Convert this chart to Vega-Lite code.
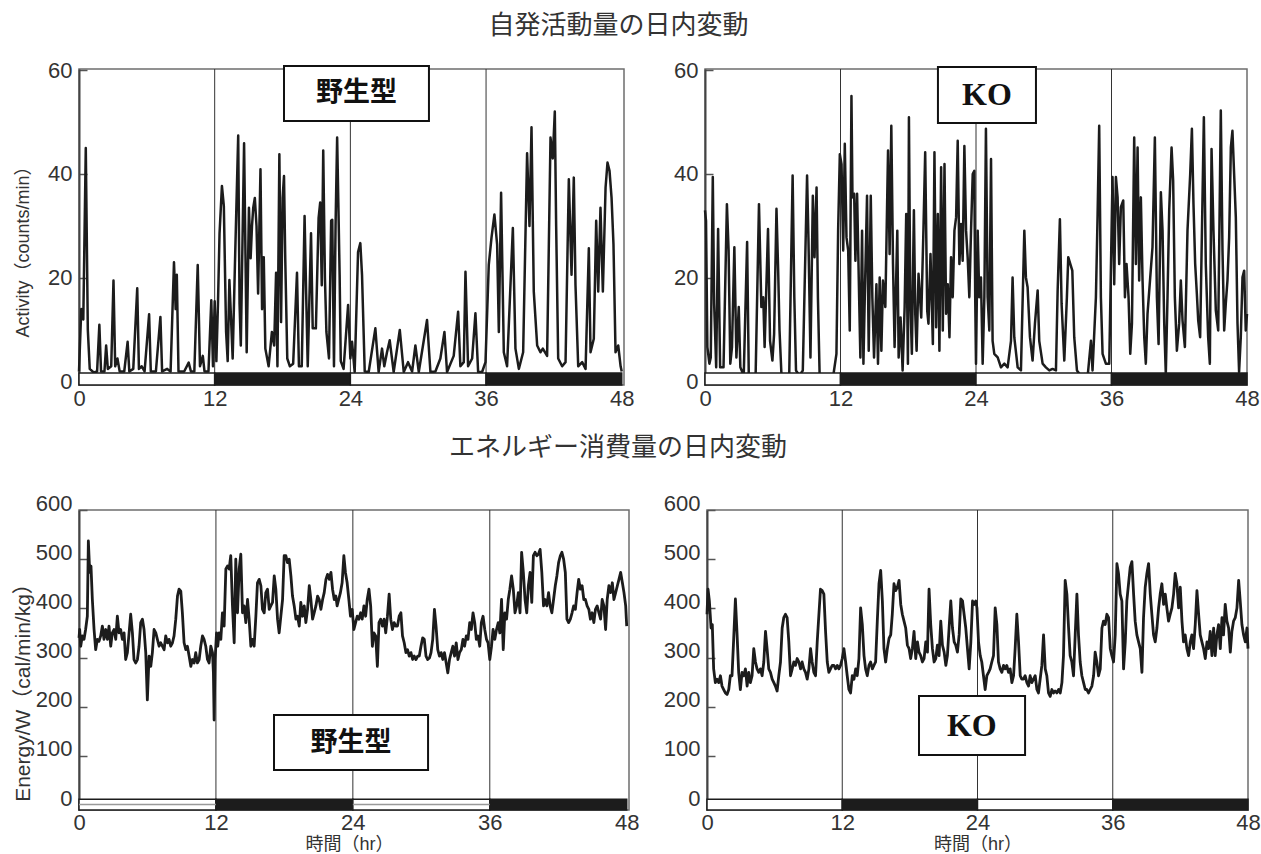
{
"$schema": "https://vega.github.io/schema/vega-lite/v6.json",
"background": "white",
"padding": {"left": 11, "top": 13, "right": 0, "bottom": 0},
"config": {
  "font": "Liberation Sans",
  "view": {"stroke": "#6e6e6e", "strokeWidth": 1.5},
  "axis": {"labelFont": "Liberation Sans", "labelFontSize": 22, "labelColor": "#333", "grid": false, "labelFlush": false, "labelOverlap": false, "titleFontWeight": "normal", "titleColor": "#333"},
  "axisX": {"ticks": false, "domain": false, "labelPadding": 3},
  "axisY": {"tickSize": -8, "tickColor": "#555", "tickWidth": 1.5, "domainColor": "#444", "domainWidth": 2, "labelPadding": 15}
},
"datasets": {
  "ld": [{"s":0,"e":12,"p":"L"},{"s":12,"e":24,"p":"D"},{"s":24,"e":36,"p":"L"},{"s":36,"e":48,"p":"D"}],
  "wtAct": [{"t":0,"v":2},{"t":0.2,"v":14},{"t":0.38,"v":12},{"t":0.6,"v":45},{"t":0.78,"v":10},{"t":0.95,"v":2.5},{"t":1.3,"v":1.8},{"t":1.6,"v":2},{"t":1.8,"v":11},{"t":1.95,"v":2},{"t":2.25,"v":2},{"t":2.4,"v":7},{"t":2.55,"v":2.5},{"t":2.85,"v":3},{"t":3.05,"v":19.5},{"t":3.2,"v":3},{"t":3.4,"v":4.5},{"t":3.6,"v":2},{"t":4.0,"v":2},{"t":4.3,"v":7.7},{"t":4.45,"v":2},{"t":4.8,"v":2.5},{"t":5.15,"v":18},{"t":5.3,"v":2.5},{"t":5.55,"v":3},{"t":5.8,"v":2},{"t":6.2,"v":13},{"t":6.35,"v":2},{"t":6.8,"v":2},{"t":7.2,"v":12.5},{"t":7.35,"v":2},{"t":7.8,"v":2.5},{"t":8.1,"v":2},{"t":8.4,"v":23},{"t":8.55,"v":14},{"t":8.65,"v":20.6},{"t":8.8,"v":2},{"t":9.3,"v":2},{"t":9.7,"v":3.7},{"t":9.9,"v":2},{"t":10.2,"v":2},{"t":10.5,"v":22.5},{"t":10.7,"v":3},{"t":10.95,"v":5},{"t":11.1,"v":2},{"t":11.45,"v":2},{"t":11.7,"v":15.7},{"t":11.85,"v":3},{"t":12.0,"v":15.5},{"t":12.15,"v":4},{"t":12.29,"v":15},{"t":12.43,"v":28.6},{"t":12.64,"v":37.7},{"t":12.81,"v":33.8},{"t":13.01,"v":9.6},{"t":13.15,"v":4},{"t":13.3,"v":19.6},{"t":13.45,"v":12},{"t":13.59,"v":4.5},{"t":13.79,"v":22.5},{"t":14.08,"v":47.4},{"t":14.2,"v":15},{"t":14.31,"v":7},{"t":14.6,"v":45.9},{"t":14.83,"v":5.7},{"t":15.03,"v":33.5},{"t":15.18,"v":23.8},{"t":15.3,"v":30},{"t":15.41,"v":33.5},{"t":15.55,"v":35.4},{"t":15.7,"v":30},{"t":15.84,"v":17},{"t":16.05,"v":40.9},{"t":16.19,"v":14},{"t":16.34,"v":24},{"t":16.48,"v":6.4},{"t":16.77,"v":3},{"t":17.06,"v":9.6},{"t":17.26,"v":7},{"t":17.43,"v":21},{"t":17.55,"v":3},{"t":17.72,"v":43.8},{"t":17.87,"v":11.5},{"t":18.01,"v":35.4},{"t":18.13,"v":39.6},{"t":18.24,"v":23.8},{"t":18.42,"v":4.5},{"t":18.65,"v":3},{"t":18.94,"v":3.5},{"t":19.28,"v":21},{"t":19.45,"v":3},{"t":19.7,"v":3},{"t":19.95,"v":31.9},{"t":20.09,"v":17},{"t":20.23,"v":3},{"t":20.52,"v":28.6},{"t":20.67,"v":10.3},{"t":20.95,"v":10.3},{"t":21.19,"v":31.5},{"t":21.33,"v":34.5},{"t":21.47,"v":18.6},{"t":21.6,"v":44.5},{"t":21.75,"v":20},{"t":21.88,"v":9.6},{"t":22.11,"v":4.5},{"t":22.3,"v":31},{"t":22.4,"v":31.2},{"t":22.55,"v":3},{"t":22.69,"v":30},{"t":22.83,"v":47},{"t":22.95,"v":32.8},{"t":23.05,"v":20.6},{"t":23.15,"v":4},{"t":23.4,"v":2.5},{"t":23.8,"v":14.8},{"t":24.0,"v":4.5},{"t":24.15,"v":7.7},{"t":24.38,"v":1.9},{"t":24.68,"v":25},{"t":24.88,"v":26.7},{"t":25.03,"v":20.6},{"t":25.27,"v":2},{"t":25.62,"v":1.9},{"t":26.21,"v":10.3},{"t":26.5,"v":1.9},{"t":26.8,"v":6.4},{"t":27.0,"v":3},{"t":27.24,"v":5.7},{"t":27.48,"v":8},{"t":27.83,"v":1.9},{"t":28.37,"v":10},{"t":28.72,"v":1.9},{"t":29.1,"v":3.8},{"t":29.46,"v":2},{"t":29.75,"v":7},{"t":30.05,"v":1.9},{"t":30.78,"v":11.9},{"t":31.08,"v":1.9},{"t":31.52,"v":2},{"t":31.96,"v":4.5},{"t":32.32,"v":9.6},{"t":32.55,"v":1.9},{"t":33.14,"v":5},{"t":33.53,"v":13.5},{"t":33.73,"v":3},{"t":34.03,"v":3.8},{"t":34.18,"v":21.2},{"t":34.41,"v":3},{"t":34.77,"v":4.5},{"t":35.06,"v":13.2},{"t":35.3,"v":1.9},{"t":35.65,"v":1.9},{"t":35.95,"v":3.8},{"t":36.24,"v":22.5},{"t":36.48,"v":27.7},{"t":36.74,"v":32.2},{"t":36.98,"v":26.4},{"t":37.13,"v":9.6},{"t":37.33,"v":36.4},{"t":37.57,"v":5.7},{"t":37.86,"v":3},{"t":38.37,"v":29.6},{"t":38.6,"v":6.4},{"t":38.9,"v":2.5},{"t":39.28,"v":5.7},{"t":39.63,"v":44},{"t":39.84,"v":30},{"t":40.02,"v":49},{"t":40.22,"v":17.4},{"t":40.52,"v":7},{"t":40.81,"v":5.7},{"t":41.02,"v":6.4},{"t":41.4,"v":5},{"t":41.7,"v":47},{"t":41.9,"v":43},{"t":42.08,"v":52},{"t":42.2,"v":30},{"t":42.38,"v":4.5},{"t":42.73,"v":3},{"t":43.03,"v":3.8},{"t":43.32,"v":39},{"t":43.56,"v":20.6},{"t":43.76,"v":39.3},{"t":43.91,"v":18.6},{"t":44.15,"v":3},{"t":44.5,"v":3.8},{"t":44.8,"v":2.5},{"t":45.09,"v":25.7},{"t":45.24,"v":5.7},{"t":45.53,"v":8.3},{"t":45.74,"v":31},{"t":45.92,"v":17.4},{"t":46.12,"v":33.5},{"t":46.33,"v":17.4},{"t":46.57,"v":37.4},{"t":46.74,"v":42.2},{"t":46.92,"v":40.6},{"t":47.1,"v":35.4},{"t":47.27,"v":26.4},{"t":47.45,"v":5.7},{"t":47.69,"v":7},{"t":47.9,"v":3},{"t":48,"v":2}],
  "koAct": [{"t":0,"v":33},{"t":0.09,"v":31},{"t":0.21,"v":6.7},{"t":0.39,"v":3.5},{"t":0.51,"v":4.7},{"t":0.69,"v":39.4},{"t":0.81,"v":15},{"t":0.99,"v":2.8},{"t":1.16,"v":29.4},{"t":1.34,"v":2.8},{"t":1.64,"v":2.8},{"t":1.94,"v":34.2},{"t":2.09,"v":25.3},{"t":2.24,"v":3.5},{"t":2.39,"v":6.7},{"t":2.6,"v":25.9},{"t":2.78,"v":4.7},{"t":2.99,"v":14.4},{"t":3.13,"v":2.8},{"t":3.43,"v":1.2},{"t":3.73,"v":26.9},{"t":3.88,"v":0.9},{"t":4.48,"v":0.9},{"t":4.78,"v":34.2},{"t":4.99,"v":14.4},{"t":5.16,"v":16.3},{"t":5.28,"v":6.7},{"t":5.58,"v":29.4},{"t":5.76,"v":7.9},{"t":5.97,"v":4.1},{"t":6.12,"v":9.2},{"t":6.33,"v":33.3},{"t":6.48,"v":21.4},{"t":6.6,"v":9.9},{"t":6.78,"v":0.9},{"t":7.16,"v":1.2},{"t":7.46,"v":1.5},{"t":7.76,"v":39.7},{"t":7.91,"v":16.3},{"t":8.06,"v":2.2},{"t":8.36,"v":1.2},{"t":8.66,"v":2.2},{"t":9.04,"v":39.7},{"t":9.16,"v":27.8},{"t":9.34,"v":4.7},{"t":9.55,"v":35.8},{"t":9.7,"v":24},{"t":9.88,"v":37.4},{"t":10.0,"v":16.3},{"t":10.15,"v":1.5},{"t":10.45,"v":0.9},{"t":10.9,"v":1.2},{"t":11.34,"v":0.9},{"t":11.64,"v":5.4},{"t":11.79,"v":29.1},{"t":11.94,"v":43.8},{"t":12.09,"v":41.9},{"t":12.24,"v":25.3},{"t":12.38,"v":45.8},{"t":12.53,"v":27.8},{"t":12.68,"v":25.3},{"t":12.82,"v":9.9},{"t":12.97,"v":55},{"t":13.06,"v":35.5},{"t":13.21,"v":36.2},{"t":13.32,"v":23.3},{"t":13.47,"v":36.2},{"t":13.65,"v":16.3},{"t":13.76,"v":4.7},{"t":13.91,"v":29.1},{"t":14.03,"v":3.5},{"t":14.15,"v":16.3},{"t":14.35,"v":35.8},{"t":14.5,"v":6},{"t":14.68,"v":35.8},{"t":14.82,"v":16.3},{"t":14.97,"v":4.7},{"t":15.18,"v":18.8},{"t":15.32,"v":3.5},{"t":15.47,"v":20.1},{"t":15.62,"v":6},{"t":15.76,"v":19.5},{"t":15.97,"v":14.4},{"t":16.21,"v":44.5},{"t":16.35,"v":24.6},{"t":16.5,"v":49.3},{"t":16.65,"v":22.7},{"t":16.79,"v":6.7},{"t":17.03,"v":29.1},{"t":17.15,"v":4.7},{"t":17.32,"v":12.4},{"t":17.5,"v":2.2},{"t":17.68,"v":14.4},{"t":17.82,"v":32.3},{"t":17.97,"v":3.5},{"t":18.06,"v":50.9},{"t":18.18,"v":16.3},{"t":18.32,"v":5.4},{"t":18.5,"v":33},{"t":18.62,"v":13.1},{"t":18.74,"v":6},{"t":18.91,"v":20.8},{"t":19.15,"v":12.4},{"t":19.35,"v":29.7},{"t":19.5,"v":44.2},{"t":19.68,"v":13.7},{"t":19.79,"v":11.2},{"t":19.97,"v":24.6},{"t":20.18,"v":7.3},{"t":20.32,"v":44.2},{"t":20.47,"v":10.5},{"t":20.62,"v":32.3},{"t":20.76,"v":6},{"t":20.91,"v":41.3},{"t":21.06,"v":9.9},{"t":21.21,"v":41.9},{"t":21.35,"v":13.1},{"t":21.5,"v":18.8},{"t":21.65,"v":8.6},{"t":21.79,"v":24},{"t":21.94,"v":16.3},{"t":22.09,"v":29.1},{"t":22.24,"v":31.7},{"t":22.38,"v":46.4},{"t":22.53,"v":22.7},{"t":22.68,"v":30.4},{"t":22.82,"v":23.3},{"t":22.97,"v":45.4},{"t":23.12,"v":29.1},{"t":23.26,"v":24},{"t":23.41,"v":16.3},{"t":23.56,"v":29.1},{"t":23.71,"v":40},{"t":23.85,"v":40.6},{"t":23.93,"v":16.3},{"t":24.0,"v":3.5},{"t":24.15,"v":29.1},{"t":24.29,"v":16.3},{"t":24.44,"v":20.1},{"t":24.59,"v":3.5},{"t":24.74,"v":16.3},{"t":24.88,"v":48.7},{"t":25.03,"v":16.3},{"t":25.18,"v":9.9},{"t":25.33,"v":42.9},{"t":25.47,"v":7.9},{"t":25.62,"v":5.4},{"t":25.92,"v":4.7},{"t":26.21,"v":2.8},{"t":26.51,"v":3.5},{"t":26.8,"v":2.8},{"t":27.1,"v":7.9},{"t":27.24,"v":20.1},{"t":27.39,"v":8.6},{"t":27.69,"v":2.8},{"t":27.98,"v":2.2},{"t":28.28,"v":29.1},{"t":28.42,"v":20.1},{"t":28.57,"v":18.2},{"t":28.78,"v":8.6},{"t":29.01,"v":4.1},{"t":29.22,"v":11.2},{"t":29.46,"v":17.6},{"t":29.6,"v":7.9},{"t":29.9,"v":3.5},{"t":30.19,"v":2.8},{"t":30.49,"v":2.2},{"t":30.78,"v":2.5},{"t":31.08,"v":2.2},{"t":31.23,"v":17.6},{"t":31.43,"v":31.3},{"t":31.58,"v":15},{"t":31.82,"v":4.1},{"t":32.05,"v":16.3},{"t":32.17,"v":24},{"t":32.35,"v":22.7},{"t":32.53,"v":21.4},{"t":32.7,"v":8.6},{"t":32.94,"v":2.2},{"t":33.29,"v":1.2},{"t":33.59,"v":1.5},{"t":33.88,"v":0.9},{"t":34.18,"v":7.9},{"t":34.32,"v":2.2},{"t":34.62,"v":16.3},{"t":34.77,"v":32.3},{"t":34.91,"v":49.3},{"t":35.06,"v":16.3},{"t":35.21,"v":5.4},{"t":35.5,"v":3.5},{"t":35.8,"v":3.5},{"t":36.09,"v":39.4},{"t":36.24,"v":18.8},{"t":36.39,"v":39.4},{"t":36.54,"v":35.5},{"t":36.68,"v":22.7},{"t":36.83,"v":33.6},{"t":37.04,"v":34.9},{"t":37.19,"v":16.3},{"t":37.33,"v":22.7},{"t":37.51,"v":16.3},{"t":37.66,"v":5.4},{"t":37.81,"v":11.2},{"t":38.01,"v":47},{"t":38.16,"v":22.7},{"t":38.31,"v":45.1},{"t":38.45,"v":19.5},{"t":38.6,"v":35.5},{"t":38.75,"v":19.5},{"t":38.9,"v":8.6},{"t":39.04,"v":3.5},{"t":39.19,"v":13.1},{"t":39.43,"v":20.1},{"t":39.63,"v":25.9},{"t":39.84,"v":47},{"t":40.02,"v":16.3},{"t":40.17,"v":7.3},{"t":40.37,"v":36.5},{"t":40.52,"v":29.1},{"t":40.67,"v":11.2},{"t":40.81,"v":1.5},{"t":40.96,"v":16.3},{"t":41.11,"v":33},{"t":41.32,"v":45.1},{"t":41.46,"v":38.7},{"t":41.61,"v":16.3},{"t":41.79,"v":6},{"t":41.99,"v":11.2},{"t":42.14,"v":19.5},{"t":42.29,"v":11.8},{"t":42.5,"v":6.7},{"t":42.73,"v":29.1},{"t":42.97,"v":40},{"t":43.12,"v":48.7},{"t":43.26,"v":34.2},{"t":43.41,"v":22.7},{"t":43.56,"v":16.9},{"t":43.68,"v":11.8},{"t":43.85,"v":8.6},{"t":44.0,"v":27.8},{"t":44.18,"v":50.9},{"t":44.35,"v":22.7},{"t":44.56,"v":8.6},{"t":44.71,"v":3.5},{"t":44.86,"v":44.8},{"t":45.03,"v":29.1},{"t":45.24,"v":13.7},{"t":45.45,"v":9.9},{"t":45.68,"v":52.2},{"t":45.83,"v":25.3},{"t":45.98,"v":9.9},{"t":46.12,"v":15},{"t":46.27,"v":19.5},{"t":46.42,"v":27.8},{"t":46.57,"v":45.1},{"t":46.71,"v":48.3},{"t":46.86,"v":40},{"t":47.01,"v":31.7},{"t":47.16,"v":11.2},{"t":47.3,"v":1.9},{"t":47.45,"v":8.6},{"t":47.6,"v":20.1},{"t":47.75,"v":21.4},{"t":47.89,"v":9.9},{"t":48,"v":13.1}],
  "wtEn": [{"t":0,"v":340},{"t":0.06,"v":357},{"t":0.15,"v":323},{"t":0.29,"v":344},{"t":0.44,"v":337},{"t":0.58,"v":357},{"t":0.73,"v":384},{"t":0.82,"v":537},{"t":0.94,"v":473},{"t":1.05,"v":486},{"t":1.17,"v":418},{"t":1.32,"v":357},{"t":1.46,"v":316},{"t":1.61,"v":337},{"t":1.75,"v":333},{"t":1.9,"v":344},{"t":2.05,"v":364},{"t":2.19,"v":337},{"t":2.34,"v":357},{"t":2.49,"v":337},{"t":2.63,"v":364},{"t":2.78,"v":323},{"t":2.92,"v":350},{"t":3.07,"v":357},{"t":3.22,"v":337},{"t":3.36,"v":384},{"t":3.51,"v":350},{"t":3.65,"v":357},{"t":3.8,"v":337},{"t":3.95,"v":350},{"t":4.09,"v":296},{"t":4.24,"v":310},{"t":4.39,"v":350},{"t":4.53,"v":388},{"t":4.68,"v":350},{"t":4.82,"v":296},{"t":4.97,"v":289},{"t":5.12,"v":296},{"t":5.26,"v":323},{"t":5.41,"v":371},{"t":5.56,"v":378},{"t":5.7,"v":357},{"t":5.85,"v":310},{"t":5.99,"v":214},{"t":6.14,"v":303},{"t":6.29,"v":282},{"t":6.43,"v":310},{"t":6.58,"v":357},{"t":6.73,"v":350},{"t":6.87,"v":337},{"t":7.02,"v":323},{"t":7.16,"v":330},{"t":7.31,"v":323},{"t":7.46,"v":316},{"t":7.6,"v":344},{"t":7.75,"v":330},{"t":7.89,"v":337},{"t":8.04,"v":323},{"t":8.19,"v":330},{"t":8.33,"v":344},{"t":8.48,"v":378},{"t":8.63,"v":425},{"t":8.77,"v":439},{"t":8.92,"v":435},{"t":9.06,"v":391},{"t":9.21,"v":330},{"t":9.36,"v":316},{"t":9.5,"v":323},{"t":9.65,"v":303},{"t":9.8,"v":282},{"t":9.94,"v":296},{"t":10.09,"v":289},{"t":10.23,"v":310},{"t":10.38,"v":289},{"t":10.53,"v":296},{"t":10.67,"v":323},{"t":10.82,"v":344},{"t":10.96,"v":337},{"t":11.11,"v":323},{"t":11.26,"v":296},{"t":11.4,"v":289},{"t":11.55,"v":323},{"t":11.7,"v":310},{"t":11.78,"v":269},{"t":11.84,"v":173},{"t":11.93,"v":296},{"t":12.05,"v":350},{"t":12.16,"v":323},{"t":12.28,"v":350},{"t":12.43,"v":337},{"t":12.57,"v":391},{"t":12.72,"v":364},{"t":12.87,"v":480},{"t":13.01,"v":486},{"t":13.16,"v":480},{"t":13.3,"v":507},{"t":13.45,"v":405},{"t":13.6,"v":330},{"t":13.74,"v":500},{"t":13.89,"v":391},{"t":14.04,"v":480},{"t":14.18,"v":510},{"t":14.33,"v":391},{"t":14.47,"v":405},{"t":14.62,"v":371},{"t":14.77,"v":418},{"t":14.91,"v":378},{"t":15.06,"v":323},{"t":15.2,"v":337},{"t":15.35,"v":323},{"t":15.5,"v":384},{"t":15.64,"v":452},{"t":15.79,"v":459},{"t":15.94,"v":446},{"t":16.08,"v":398},{"t":16.23,"v":391},{"t":16.37,"v":432},{"t":16.52,"v":439},{"t":16.67,"v":398},{"t":16.81,"v":405},{"t":16.96,"v":412},{"t":17.11,"v":466},{"t":17.25,"v":439},{"t":17.4,"v":378},{"t":17.54,"v":350},{"t":17.69,"v":384},{"t":17.84,"v":418},{"t":17.98,"v":507},{"t":18.13,"v":507},{"t":18.27,"v":493},{"t":18.42,"v":500},{"t":18.57,"v":466},{"t":18.71,"v":425},{"t":18.86,"v":405},{"t":19.01,"v":378},{"t":19.15,"v":384},{"t":19.3,"v":364},{"t":19.44,"v":412},{"t":19.59,"v":384},{"t":19.74,"v":405},{"t":19.88,"v":371},{"t":20.03,"v":398},{"t":20.18,"v":446},{"t":20.32,"v":418},{"t":20.47,"v":378},{"t":20.61,"v":391},{"t":20.76,"v":405},{"t":20.91,"v":425},{"t":21.05,"v":418},{"t":21.2,"v":398},{"t":21.35,"v":418},{"t":21.49,"v":432},{"t":21.64,"v":459},{"t":21.78,"v":469},{"t":21.93,"v":459},{"t":22.08,"v":473},{"t":22.22,"v":439},{"t":22.37,"v":418},{"t":22.51,"v":425},{"t":22.62,"v":405},{"t":22.76,"v":418},{"t":22.91,"v":432},{"t":23.06,"v":452},{"t":23.21,"v":507},{"t":23.35,"v":473},{"t":23.5,"v":452},{"t":23.65,"v":418},{"t":23.79,"v":384},{"t":23.94,"v":398},{"t":24.09,"v":357},{"t":24.24,"v":371},{"t":24.38,"v":384},{"t":24.53,"v":378},{"t":24.68,"v":391},{"t":24.82,"v":378},{"t":24.97,"v":405},{"t":25.12,"v":384},{"t":25.26,"v":418},{"t":25.41,"v":439},{"t":25.56,"v":405},{"t":25.71,"v":323},{"t":25.85,"v":350},{"t":26.0,"v":344},{"t":26.15,"v":282},{"t":26.29,"v":371},{"t":26.44,"v":378},{"t":26.59,"v":364},{"t":26.74,"v":378},{"t":26.88,"v":350},{"t":27.03,"v":384},{"t":27.18,"v":429},{"t":27.32,"v":378},{"t":27.47,"v":357},{"t":27.62,"v":371},{"t":27.76,"v":364},{"t":27.91,"v":364},{"t":28.06,"v":384},{"t":28.21,"v":391},{"t":28.35,"v":344},{"t":28.5,"v":330},{"t":28.65,"v":310},{"t":28.79,"v":316},{"t":28.94,"v":303},{"t":29.09,"v":310},{"t":29.24,"v":296},{"t":29.38,"v":303},{"t":29.53,"v":296},{"t":29.68,"v":303},{"t":29.82,"v":303},{"t":29.97,"v":323},{"t":30.12,"v":340},{"t":30.26,"v":337},{"t":30.41,"v":303},{"t":30.56,"v":296},{"t":30.71,"v":299},{"t":30.85,"v":310},{"t":31.0,"v":337},{"t":31.15,"v":398},{"t":31.29,"v":364},{"t":31.44,"v":316},{"t":31.59,"v":303},{"t":31.74,"v":310},{"t":31.88,"v":296},{"t":32.03,"v":310},{"t":32.18,"v":289},{"t":32.32,"v":269},{"t":32.47,"v":296},{"t":32.62,"v":310},{"t":32.76,"v":323},{"t":32.91,"v":303},{"t":33.06,"v":330},{"t":33.21,"v":296},{"t":33.35,"v":310},{"t":33.5,"v":316},{"t":33.65,"v":337},{"t":33.79,"v":323},{"t":33.94,"v":344},{"t":34.09,"v":337},{"t":34.24,"v":371},{"t":34.38,"v":357},{"t":34.53,"v":391},{"t":34.68,"v":371},{"t":34.82,"v":337},{"t":34.97,"v":344},{"t":35.12,"v":323},{"t":35.26,"v":371},{"t":35.41,"v":384},{"t":35.56,"v":357},{"t":35.71,"v":337},{"t":35.85,"v":330},{"t":36.0,"v":296},{"t":36.15,"v":323},{"t":36.29,"v":357},{"t":36.44,"v":337},{"t":36.59,"v":357},{"t":36.74,"v":371},{"t":36.88,"v":350},{"t":37.03,"v":418},{"t":37.18,"v":316},{"t":37.32,"v":391},{"t":37.47,"v":378},{"t":37.62,"v":418},{"t":37.76,"v":439},{"t":37.91,"v":466},{"t":38.06,"v":439},{"t":38.21,"v":391},{"t":38.35,"v":405},{"t":38.5,"v":432},{"t":38.65,"v":391},{"t":38.79,"v":514},{"t":38.94,"v":473},{"t":39.09,"v":418},{"t":39.24,"v":391},{"t":39.38,"v":446},{"t":39.53,"v":473},{"t":39.68,"v":412},{"t":39.82,"v":507},{"t":39.97,"v":514},{"t":40.12,"v":507},{"t":40.26,"v":510},{"t":40.41,"v":520},{"t":40.56,"v":473},{"t":40.71,"v":405},{"t":40.85,"v":418},{"t":41.0,"v":405},{"t":41.15,"v":432},{"t":41.29,"v":405},{"t":41.44,"v":391},{"t":41.59,"v":418},{"t":41.74,"v":446},{"t":41.88,"v":466},{"t":42.03,"v":493},{"t":42.18,"v":507},{"t":42.32,"v":514},{"t":42.47,"v":500},{"t":42.62,"v":473},{"t":42.76,"v":378},{"t":42.91,"v":371},{"t":43.06,"v":378},{"t":43.21,"v":391},{"t":43.35,"v":405},{"t":43.5,"v":398},{"t":43.65,"v":432},{"t":43.79,"v":459},{"t":43.94,"v":439},{"t":44.09,"v":446},{"t":44.24,"v":418},{"t":44.38,"v":418},{"t":44.53,"v":405},{"t":44.68,"v":398},{"t":44.82,"v":378},{"t":44.97,"v":391},{"t":45.12,"v":371},{"t":45.26,"v":398},{"t":45.41,"v":405},{"t":45.56,"v":391},{"t":45.71,"v":378},{"t":45.85,"v":418},{"t":46.0,"v":405},{"t":46.15,"v":357},{"t":46.29,"v":418},{"t":46.44,"v":446},{"t":46.59,"v":432},{"t":46.74,"v":452},{"t":46.88,"v":418},{"t":47.03,"v":432},{"t":47.18,"v":446},{"t":47.32,"v":459},{"t":47.47,"v":473},{"t":47.62,"v":452},{"t":47.76,"v":432},{"t":47.91,"v":405},{"t":48,"v":364}],
  "koEn": [{"t":0,"v":388},{"t":0.09,"v":439},{"t":0.21,"v":415},{"t":0.36,"v":360},{"t":0.47,"v":367},{"t":0.59,"v":277},{"t":0.74,"v":249},{"t":0.89,"v":256},{"t":1.04,"v":249},{"t":1.19,"v":263},{"t":1.33,"v":242},{"t":1.48,"v":235},{"t":1.63,"v":228},{"t":1.78,"v":225},{"t":1.93,"v":235},{"t":2.07,"v":263},{"t":2.22,"v":263},{"t":2.37,"v":339},{"t":2.52,"v":419},{"t":2.67,"v":346},{"t":2.81,"v":270},{"t":2.96,"v":235},{"t":3.11,"v":270},{"t":3.26,"v":263},{"t":3.41,"v":277},{"t":3.56,"v":242},{"t":3.7,"v":270},{"t":3.85,"v":249},{"t":4.0,"v":263},{"t":4.15,"v":318},{"t":4.3,"v":291},{"t":4.44,"v":277},{"t":4.59,"v":270},{"t":4.74,"v":277},{"t":4.89,"v":263},{"t":5.04,"v":291},{"t":5.19,"v":353},{"t":5.33,"v":318},{"t":5.48,"v":277},{"t":5.63,"v":270},{"t":5.78,"v":256},{"t":5.93,"v":249},{"t":6.07,"v":242},{"t":6.22,"v":232},{"t":6.37,"v":263},{"t":6.52,"v":291},{"t":6.67,"v":360},{"t":6.81,"v":381},{"t":6.96,"v":388},{"t":7.11,"v":381},{"t":7.26,"v":332},{"t":7.41,"v":263},{"t":7.56,"v":277},{"t":7.7,"v":291},{"t":7.85,"v":284},{"t":8.0,"v":298},{"t":8.15,"v":291},{"t":8.3,"v":277},{"t":8.44,"v":291},{"t":8.59,"v":277},{"t":8.74,"v":270},{"t":8.89,"v":256},{"t":9.04,"v":277},{"t":9.19,"v":318},{"t":9.33,"v":291},{"t":9.48,"v":270},{"t":9.63,"v":263},{"t":9.78,"v":332},{"t":9.93,"v":388},{"t":10.07,"v":439},{"t":10.22,"v":436},{"t":10.37,"v":429},{"t":10.52,"v":353},{"t":10.67,"v":291},{"t":10.81,"v":270},{"t":10.96,"v":277},{"t":11.11,"v":284},{"t":11.26,"v":284},{"t":11.41,"v":277},{"t":11.56,"v":284},{"t":11.7,"v":277},{"t":11.85,"v":284},{"t":12.0,"v":298},{"t":12.15,"v":318},{"t":12.3,"v":291},{"t":12.44,"v":263},{"t":12.59,"v":235},{"t":12.74,"v":228},{"t":12.89,"v":263},{"t":13.04,"v":256},{"t":13.19,"v":277},{"t":13.33,"v":263},{"t":13.48,"v":298},{"t":13.63,"v":401},{"t":13.78,"v":367},{"t":13.93,"v":304},{"t":14.07,"v":277},{"t":14.22,"v":263},{"t":14.37,"v":284},{"t":14.52,"v":291},{"t":14.67,"v":277},{"t":14.81,"v":284},{"t":14.96,"v":291},{"t":15.11,"v":374},{"t":15.26,"v":450},{"t":15.41,"v":477},{"t":15.56,"v":415},{"t":15.7,"v":318},{"t":15.85,"v":291},{"t":16.0,"v":318},{"t":16.15,"v":339},{"t":16.3,"v":346},{"t":16.44,"v":388},{"t":16.59,"v":450},{"t":16.74,"v":436},{"t":16.89,"v":443},{"t":17.04,"v":457},{"t":17.19,"v":408},{"t":17.33,"v":388},{"t":17.48,"v":374},{"t":17.63,"v":360},{"t":17.78,"v":325},{"t":17.93,"v":318},{"t":18.07,"v":298},{"t":18.22,"v":318},{"t":18.37,"v":353},{"t":18.52,"v":298},{"t":18.67,"v":332},{"t":18.81,"v":311},{"t":18.96,"v":304},{"t":19.11,"v":291},{"t":19.26,"v":298},{"t":19.41,"v":332},{"t":19.56,"v":311},{"t":19.7,"v":439},{"t":19.85,"v":367},{"t":20.0,"v":318},{"t":20.15,"v":291},{"t":20.3,"v":298},{"t":20.44,"v":325},{"t":20.59,"v":304},{"t":20.74,"v":374},{"t":20.89,"v":325},{"t":21.04,"v":311},{"t":21.19,"v":284},{"t":21.33,"v":304},{"t":21.48,"v":360},{"t":21.63,"v":415},{"t":21.78,"v":360},{"t":21.93,"v":332},{"t":22.07,"v":325},{"t":22.22,"v":311},{"t":22.37,"v":346},{"t":22.52,"v":419},{"t":22.67,"v":415},{"t":22.81,"v":388},{"t":22.96,"v":360},{"t":23.11,"v":318},{"t":23.26,"v":277},{"t":23.41,"v":332},{"t":23.56,"v":415},{"t":23.7,"v":408},{"t":23.85,"v":415},{"t":23.95,"v":401},{"t":24.09,"v":332},{"t":24.24,"v":304},{"t":24.38,"v":291},{"t":24.53,"v":263},{"t":24.68,"v":235},{"t":24.83,"v":263},{"t":24.98,"v":270},{"t":25.12,"v":277},{"t":25.27,"v":291},{"t":25.42,"v":304},{"t":25.57,"v":401},{"t":25.72,"v":367},{"t":25.86,"v":291},{"t":26.01,"v":277},{"t":26.16,"v":270},{"t":26.31,"v":284},{"t":26.46,"v":277},{"t":26.6,"v":284},{"t":26.75,"v":270},{"t":26.9,"v":277},{"t":27.05,"v":249},{"t":27.2,"v":263},{"t":27.34,"v":318},{"t":27.49,"v":388},{"t":27.64,"v":332},{"t":27.79,"v":263},{"t":27.93,"v":256},{"t":28.08,"v":256},{"t":28.23,"v":263},{"t":28.38,"v":249},{"t":28.53,"v":242},{"t":28.67,"v":263},{"t":28.82,"v":249},{"t":28.97,"v":256},{"t":29.12,"v":263},{"t":29.27,"v":235},{"t":29.41,"v":228},{"t":29.56,"v":256},{"t":29.71,"v":284},{"t":29.86,"v":346},{"t":30.01,"v":277},{"t":30.15,"v":263},{"t":30.3,"v":228},{"t":30.45,"v":221},{"t":30.6,"v":235},{"t":30.75,"v":228},{"t":30.89,"v":232},{"t":31.04,"v":228},{"t":31.19,"v":235},{"t":31.34,"v":228},{"t":31.49,"v":249},{"t":31.63,"v":304},{"t":31.78,"v":457},{"t":31.93,"v":429},{"t":32.08,"v":360},{"t":32.22,"v":304},{"t":32.37,"v":291},{"t":32.52,"v":263},{"t":32.67,"v":346},{"t":32.82,"v":429},{"t":32.96,"v":346},{"t":33.11,"v":291},{"t":33.26,"v":263},{"t":33.41,"v":249},{"t":33.56,"v":235},{"t":33.7,"v":235},{"t":33.85,"v":228},{"t":34.0,"v":235},{"t":34.15,"v":242},{"t":34.3,"v":263},{"t":34.44,"v":311},{"t":34.59,"v":291},{"t":34.74,"v":263},{"t":34.89,"v":277},{"t":35.04,"v":360},{"t":35.18,"v":374},{"t":35.33,"v":367},{"t":35.48,"v":388},{"t":35.63,"v":381},{"t":35.78,"v":318},{"t":35.92,"v":304},{"t":36.07,"v":291},{"t":36.22,"v":346},{"t":36.37,"v":491},{"t":36.51,"v":471},{"t":36.66,"v":429},{"t":36.81,"v":415},{"t":36.96,"v":277},{"t":37.11,"v":332},{"t":37.25,"v":415},{"t":37.4,"v":450},{"t":37.55,"v":484},{"t":37.7,"v":495},{"t":37.85,"v":429},{"t":37.99,"v":374},{"t":38.14,"v":346},{"t":38.29,"v":332},{"t":38.44,"v":318},{"t":38.59,"v":270},{"t":38.73,"v":381},{"t":38.88,"v":443},{"t":39.03,"v":471},{"t":39.18,"v":491},{"t":39.33,"v":429},{"t":39.47,"v":388},{"t":39.62,"v":346},{"t":39.77,"v":332},{"t":39.92,"v":360},{"t":40.07,"v":401},{"t":40.21,"v":429},{"t":40.36,"v":450},{"t":40.51,"v":408},{"t":40.66,"v":429},{"t":40.8,"v":401},{"t":40.95,"v":374},{"t":41.1,"v":388},{"t":41.25,"v":401},{"t":41.4,"v":429},{"t":41.54,"v":471},{"t":41.69,"v":450},{"t":41.84,"v":401},{"t":41.99,"v":443},{"t":42.14,"v":374},{"t":42.28,"v":332},{"t":42.43,"v":346},{"t":42.58,"v":318},{"t":42.73,"v":304},{"t":42.88,"v":332},{"t":43.02,"v":346},{"t":43.17,"v":318},{"t":43.32,"v":367},{"t":43.47,"v":436},{"t":43.62,"v":388},{"t":43.76,"v":346},{"t":43.91,"v":332},{"t":44.06,"v":318},{"t":44.21,"v":298},{"t":44.36,"v":332},{"t":44.5,"v":318},{"t":44.65,"v":353},{"t":44.8,"v":304},{"t":44.95,"v":360},{"t":45.09,"v":304},{"t":45.24,"v":346},{"t":45.39,"v":367},{"t":45.54,"v":318},{"t":45.69,"v":381},{"t":45.83,"v":346},{"t":45.98,"v":408},{"t":46.13,"v":374},{"t":46.28,"v":360},{"t":46.43,"v":311},{"t":46.57,"v":353},{"t":46.72,"v":374},{"t":46.87,"v":381},{"t":47.02,"v":401},{"t":47.17,"v":457},{"t":47.31,"v":415},{"t":47.46,"v":367},{"t":47.61,"v":346},{"t":47.76,"v":332},{"t":47.91,"v":360},{"t":48,"v":318}]
},
"resolve": {"scale": {"x": "independent", "y": "independent"}},
"spacing": 25,
"vconcat": [
 {
  "title": {"text": "自発活動量の日内変動", "font": "Noto Sans CJK JP", "fontSize": 26, "fontWeight": "normal", "color": "#333", "anchor": "middle", "frame": "bounds", "offset": 19, "dx": -18},
  "bounds": "flush",
  "spacing": 81,
  "resolve": {"scale": {"x": "independent", "y": "independent"}},
  "hconcat": [
   {
    "width": 545, "height": 316,
    "layer": [
     {"data": {"values": [{"h":12},{"h":24},{"h":36}]}, "mark": {"type": "rule", "color": "#333", "strokeWidth": 1},
      "encoding": {"x": {"field": "h", "type": "quantitative", "scale": {"domain": [0, 48.2], "nice": false, "zero": false}, "axis": {"values": [0,12,24,36,48], "title": null}}}},
     {"data": {"name": "wtAct"}, "mark": {"type": "line", "color": "#1c1c1c", "strokeWidth": 2.5, "strokeJoin": "round"},
      "encoding": {"x": {"field": "t", "type": "quantitative"},
                   "y": {"field": "v", "type": "quantitative", "scale": {"domain": [-0.6, 60.2], "nice": false, "zero": false},
                         "axis": {"values": [0,20,40,60], "title": "Activity（counts/min）", "titleFont": "Liberation Sans, Noto Sans CJK JP", "titleFontSize": 18, "titleX": -56, "titleY": 178, "titleBaseline": "middle", "titleAlign": "center"}}}},
     {"data": {"name": "ld"}, "mark": {"type": "rect", "stroke": "#1c1c1c", "strokeWidth": 1.5},
      "encoding": {"x": {"field": "s", "type": "quantitative"}, "x2": {"field": "e"}, "y": {"datum": -0.6}, "y2": {"datum": 1.7},
                   "fill": {"field": "p", "type": "nominal", "scale": {"domain": ["L","D"], "range": ["#ffffff","#1c1c1c"]}, "legend": null}}},
     {"data": {"values": [{"label": "野生型"}]},
      "layer": [
       {"mark": {"type": "rect", "fill": "white", "stroke": "#111", "strokeWidth": 2}, "encoding": {"x": {"datum": 18.13}, "x2": {"datum": 30.95}, "y": {"datum": 60.78}, "y2": {"datum": 50.19}}},
       {"mark": {"type": "text", "font": "Noto Sans CJK JP", "fontWeight": "bold", "fontSize": 27, "color": "#111", "align": "center", "baseline": "middle"}, "encoding": {"x": {"datum": 24.54}, "y": {"datum": 55.49}, "text": {"field": "label"}}}
      ]}
    ]
   },
   {
    "width": 542, "height": 316,
    "layer": [
     {"data": {"values": [{"h":12},{"h":24},{"h":36}]}, "mark": {"type": "rule", "color": "#333", "strokeWidth": 1},
      "encoding": {"x": {"field": "h", "type": "quantitative", "scale": {"domain": [0, 48], "nice": false, "zero": false}, "axis": {"values": [0,12,24,36,48], "title": null}}}},
     {"data": {"name": "koAct"}, "mark": {"type": "line", "color": "#1c1c1c", "strokeWidth": 2.5, "strokeJoin": "round"},
      "encoding": {"x": {"field": "t", "type": "quantitative"},
                   "y": {"field": "v", "type": "quantitative", "scale": {"domain": [-0.6, 60.2], "nice": false, "zero": false},
                         "axis": {"values": [0,20,40,60], "title": null}}}},
     {"data": {"name": "ld"}, "mark": {"type": "rect", "stroke": "#1c1c1c", "strokeWidth": 1.5},
      "encoding": {"x": {"field": "s", "type": "quantitative"}, "x2": {"field": "e"}, "y": {"datum": -0.6}, "y2": {"datum": 1.7},
                   "fill": {"field": "p", "type": "nominal", "scale": {"domain": ["L","D"], "range": ["#ffffff","#1c1c1c"]}, "legend": null}}},
     {"data": {"values": [{"label": "KO"}]},
      "layer": [
       {"mark": {"type": "rect", "fill": "white", "stroke": "#111", "strokeWidth": 2}, "encoding": {"x": {"datum": 20.63}, "x2": {"datum": 29.31}, "y": {"datum": 60.58}, "y2": {"datum": 49.81}}},
       {"mark": {"type": "text", "font": "Liberation Serif", "fontWeight": "bold", "fontSize": 32, "color": "#111", "align": "center", "baseline": "middle"}, "encoding": {"x": {"datum": 24.97}, "y": {"datum": 55.2}, "text": {"field": "label"}}}
      ]}
    ]
   }
  ]
 },
 {
  "title": {"text": "エネルギー消費量の日内変動", "font": "Noto Sans CJK JP", "fontSize": 26, "fontWeight": "normal", "color": "#333", "anchor": "middle", "frame": "bounds", "offset": 30, "dx": -18},
  "bounds": "flush",
  "spacing": 78,
  "resolve": {"scale": {"x": "independent", "y": "independent"}},
  "hconcat": [
   {
    "width": 550, "height": 300,
    "layer": [
     {"data": {"values": [{"h":12},{"h":24},{"h":36}]}, "mark": {"type": "rule", "color": "#333", "strokeWidth": 1},
      "encoding": {"x": {"field": "h", "type": "quantitative", "scale": {"domain": [0, 48.2], "nice": false, "zero": false},
                         "axis": {"values": [0,12,24,36,48], "title": "時間（hr）", "titleFont": "Liberation Sans, Noto Sans CJK JP", "titleFontSize": 18, "titleX": 270, "labelPadding": 2, "titlePadding": 2}}}},
     {"data": {"name": "wtEn"}, "mark": {"type": "line", "color": "#1c1c1c", "strokeWidth": 2.8, "strokeJoin": "round"},
      "encoding": {"x": {"field": "t", "type": "quantitative"},
                   "y": {"field": "v", "type": "quantitative", "scale": {"domain": [-10, 600], "nice": false, "zero": false},
                         "axis": {"values": [0,100,200,300,400,500,600], "labelOffset": -7, "title": "Energy/W（cal/min/kg）", "titleFont": "Liberation Sans, Noto Sans CJK JP", "titleFontSize": 21, "titleX": -56, "titleY": 177, "titleBaseline": "middle", "titleAlign": "center"}}}},
     {"data": {"name": "ld"}, "mark": {"type": "rect", "stroke": "#1c1c1c", "strokeWidth": 1.5},
      "encoding": {"x": {"field": "s", "type": "quantitative"}, "x2": {"field": "e"}, "y": {"datum": -10}, "y2": {"datum": 12},
                   "fill": {"field": "p", "type": "nominal", "scale": {"domain": ["L","D"], "range": ["#ffffff","#1c1c1c"]}, "legend": null}}},
     {"data": {"name": "ld"}, "transform": [{"filter": "datum.p === 'L'"}], "mark": {"type": "rule", "color": "#999", "strokeWidth": 1.5},
      "encoding": {"x": {"field": "s", "type": "quantitative"}, "x2": {"field": "e"}, "y": {"datum": 1}}},
     {"data": {"values": [{"label": "野生型"}]},
      "layer": [
       {"mark": {"type": "rect", "fill": "white", "stroke": "#111", "strokeWidth": 2}, "encoding": {"x": {"datum": 17.09}, "x2": {"datum": 30.59}, "y": {"datum": 183.2}, "y2": {"datum": 71.3}}},
       {"mark": {"type": "text", "font": "Noto Sans CJK JP", "fontWeight": "bold", "fontSize": 27, "color": "#111", "align": "center", "baseline": "middle"}, "encoding": {"x": {"datum": 23.84}, "y": {"datum": 127.2}, "text": {"field": "label"}}}
      ]}
    ]
   },
   {
    "width": 541, "height": 300,
    "layer": [
     {"data": {"values": [{"h":12},{"h":24},{"h":36}]}, "mark": {"type": "rule", "color": "#333", "strokeWidth": 1},
      "encoding": {"x": {"field": "h", "type": "quantitative", "scale": {"domain": [0, 48], "nice": false, "zero": false},
                         "axis": {"values": [0,12,24,36,48], "title": "時間（hr）", "titleFont": "Liberation Sans, Noto Sans CJK JP", "titleFontSize": 18, "labelPadding": 2, "titlePadding": 2}}}},
     {"data": {"name": "koEn"}, "mark": {"type": "line", "color": "#1c1c1c", "strokeWidth": 2.8, "strokeJoin": "round"},
      "encoding": {"x": {"field": "t", "type": "quantitative"},
                   "y": {"field": "v", "type": "quantitative", "scale": {"domain": [-10, 600], "nice": false, "zero": false},
                         "axis": {"values": [0,100,200,300,400,500,600], "labelOffset": -7, "title": null}}}},
     {"data": {"name": "ld"}, "mark": {"type": "rect", "stroke": "#1c1c1c", "strokeWidth": 1.5},
      "encoding": {"x": {"field": "s", "type": "quantitative"}, "x2": {"field": "e"}, "y": {"datum": -10}, "y2": {"datum": 12},
                   "fill": {"field": "p", "type": "nominal", "scale": {"domain": ["L","D"], "range": ["#ffffff","#1c1c1c"]}, "legend": null}}},
     {"data": {"values": [{"label": "KO"}]},
      "layer": [
       {"mark": {"type": "rect", "fill": "white", "stroke": "#111", "strokeWidth": 2}, "encoding": {"x": {"datum": 18.81}, "x2": {"datum": 28.22}, "y": {"datum": 221.8}, "y2": {"datum": 101.8}}},
       {"mark": {"type": "text", "font": "Liberation Serif", "fontWeight": "bold", "fontSize": 32, "color": "#111", "align": "center", "baseline": "middle"}, "encoding": {"x": {"datum": 23.5}, "y": {"datum": 161.8}, "text": {"field": "label"}}}
      ]}
    ]
   }
  ]
 }
]
}
